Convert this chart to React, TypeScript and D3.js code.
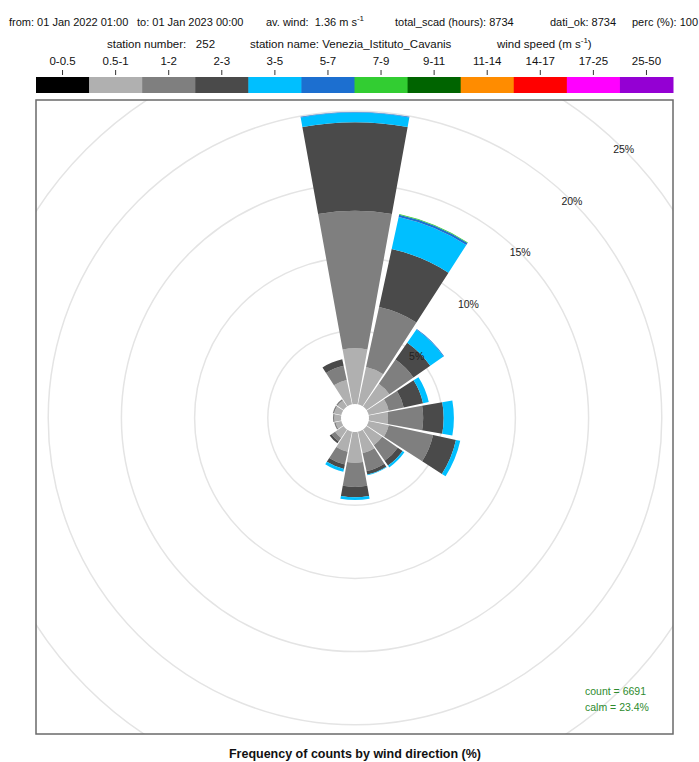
import React from 'react';
import * as d3 from 'd3';

const directions = [0, 22.5, 45, 67.5, 90, 112.5, 135, 157.5, 180, 202.5, 225, 247.5, 270, 292.5, 315, 337.5];
const speedBins = ['0-0.5', '0.5-1', '1-2', '2-3', '3-5', '5-7', '7-9', '9-11', '11-14', '14-17', '17-25', '25-50'];
const binColors = ['#000000', '#b0b0b0', '#7f7f7f', '#4a4a4a', '#00bfff', '#1c6fd0', '#32cd32', '#006400', '#ff8c00', '#ff0000', '#ff00ff', '#9400d3'];

// frequency (%) per direction for each speed bin
const freq0_05 = [0, 0, 0, 0, 0, 0, 0, 0, 0, 0, 0, 0, 0, 0, 0, 0];
const freq05_1 = [3.8, 2.6, 1.9, 1.4, 1.3, 1.4, 1.3, 1.5, 2.1, 1.4, 0.7, 0.4, 0.45, 0.5, 0.5, 1.7];
const freq1_2 = [9.4, 4.2, 2.0, 1.05, 2.4, 3.1, 1.3, 1.25, 1.65, 0.9, 0.3, 0.1, 0.1, 0.1, 0.1, 1.0];
const freq2_3 = [6.05, 4.05, 1.4, 1.35, 1.4, 1.6, 0.4, 0.25, 0.7, 0.3, 0.15, 0, 0, 0, 0, 0.45];
const freq3_5 = [0.65, 2.25, 1.1, 0.4, 0.7, 0.3, 0.15, 0.05, 0.2, 0.2, 0, 0, 0, 0, 0, 0];
const freq5_7 = [0.05, 0.15, 0.05, 0, 0, 0, 0, 0, 0, 0, 0, 0, 0, 0, 0, 0];
const freq7_9 = [0, 0.05, 0, 0, 0, 0, 0, 0, 0, 0, 0, 0, 0, 0, 0, 0];
const freq9_11 = [0, 0, 0, 0, 0, 0, 0, 0, 0, 0, 0, 0, 0, 0, 0, 0];
const freq11_14 = [0, 0, 0, 0, 0, 0, 0, 0, 0, 0, 0, 0, 0, 0, 0, 0];
const freq14_17 = [0, 0, 0, 0, 0, 0, 0, 0, 0, 0, 0, 0, 0, 0, 0, 0];
const freq17_25 = [0, 0, 0, 0, 0, 0, 0, 0, 0, 0, 0, 0, 0, 0, 0, 0];
const freq25_50 = [0, 0, 0, 0, 0, 0, 0, 0, 0, 0, 0, 0, 0, 0, 0, 0];
const binSeries = [freq0_05, freq05_1, freq1_2, freq2_3, freq3_5, freq5_7, freq7_9, freq9_11, freq11_14, freq14_17, freq17_25, freq25_50];

const ringValues = [5, 10, 15, 20, 25, 30];
const headerSegments = [
  { x: 9, text: 'from: 01 Jan 2022 01:00' },
  { x: 137, text: 'to: 01 Jan 2023 00:00' },
  { x: 266, text: 'av. wind:  1.36 m s', sup: '-1' },
  { x: 395, text: 'total_scad (hours): 8734' },
  { x: 550, text: 'dati_ok: 8734' },
  { x: 632, text: 'perc (%): 100' },
];
const countText = 'count = 6691';
const calmText = 'calm = 23.4%';
const titleText = 'Frequency of counts by wind direction (%)';

const W = 699;
const H = 762;
const box = { x0: 36, y0: 100, x1: 673, y1: 734 };
const cx = 355;
const cy = 418;
const FONT = '"Liberation Sans", Arial, Helvetica, sans-serif';

export default function App() {
  const r = d3.scaleLinear().domain([0, 25]).range([14, 380]);
  const rows = directions.map((d, i) => {
    const o: any = { dir: d };
    speedBins.forEach((b, k) => (o[b] = binSeries[k][i]));
    return o;
  });
  const stacked = d3.stack<any>().keys(speedBins)(rows);
  const halfAngle = ((22.5 / 2 - 1) * Math.PI) / 180;
  const arc = d3.arc<any>();
  const legendX = d3.scaleBand<string>().domain(speedBins).range([box.x0, box.x1]);

  return (
    <svg width={W} height={H} style={{ position: 'absolute', left: 0, top: 0, background: '#fff' }} fontFamily={FONT}>
      <defs>
        <clipPath id="boxclip">
          <rect x={box.x0} y={box.y0} width={box.x1 - box.x0} height={box.y1 - box.y0} />
        </clipPath>
      </defs>
      <rect x={0} y={0} width={W} height={H} fill="#fff" />
      {/* header */}
      {headerSegments.map((s) => (
        <text key={s.x} x={s.x} y={26} fontSize={11} fill="#111" style={{ whiteSpace: 'pre' }}>
          {s.text}
          {s.sup ? <tspan dy={-5} fontSize={8}>{s.sup}</tspan> : null}
        </text>
      ))}
      <text x={107} y={48} fontSize={11.5} fill="#111" style={{ whiteSpace: 'pre' }}>station number:   252</text>
      <text x={250} y={48} fontSize={11.5} fill="#111" style={{ whiteSpace: 'pre' }}>station name: Venezia_Istituto_Cavanis</text>
      <text x={497} y={48} fontSize={11.5} fill="#111" style={{ whiteSpace: 'pre' }}>
        wind speed (m s<tspan dy={-5} fontSize={8}>-1</tspan><tspan dy={5}>)</tspan>
      </text>
      {/* legend */}
      {speedBins.map((b, k) => {
        const x = legendX(b)!;
        const bw = legendX.bandwidth();
        return (
          <g key={b}>
            <text x={x + bw / 2} y={65} fontSize={11.5} textAnchor="middle" fill="#111">{b}</text>
            <line x1={x + bw / 2} x2={x + bw / 2} y1={70} y2={75} stroke="#333" strokeWidth={1} />
            <rect x={x} y={77} width={bw + 0.5} height={16} fill={binColors[k]} />
          </g>
        );
      })}
      {/* plot box */}
      <g clipPath="url(#boxclip)">
        {ringValues.map((v) => (
          <circle key={v} cx={cx} cy={cy} r={r(v)} fill="none" stroke="#e4e4e4" strokeWidth={1.5} />
        ))}
        {stacked.map((series, k) =>
          series.map((d, i) => {
            if (d[1] - d[0] <= 0) return null;
            const a = (directions[i] * Math.PI) / 180;
            const path = arc({
              innerRadius: r(d[0]),
              outerRadius: r(d[1]),
              startAngle: a - halfAngle,
              endAngle: a + halfAngle,
            });
            return <path key={`${k}-${i}`} d={path || ''} transform={`translate(${cx},${cy})`} fill={binColors[k]} />;
          })
        )}
        {ringValues.filter((v) => v <= 25).map((v) => (
          <text
            key={`l${v}`}
            x={cx + r(v) * Math.SQRT1_2}
            y={cy - r(v) * Math.SQRT1_2 + 3.5}
            fontSize={10.5}
            textAnchor="middle"
            fill="#222"
          >
            {`${v}%`}
          </text>
        ))}
        <text x={585} y={695} fontSize={10.5} fill="#2e8b2e">{countText}</text>
        <text x={585} y={711} fontSize={10.5} fill="#2e8b2e">{calmText}</text>
      </g>
      <rect x={box.x0} y={box.y0} width={box.x1 - box.x0} height={box.y1 - box.y0} fill="none" stroke="#6a6a6a" strokeWidth={1.5} />
      <text x={cx} y={758} fontSize={12.5} fontWeight="bold" textAnchor="middle" fill="#111">{titleText}</text>
    </svg>
  );
}
